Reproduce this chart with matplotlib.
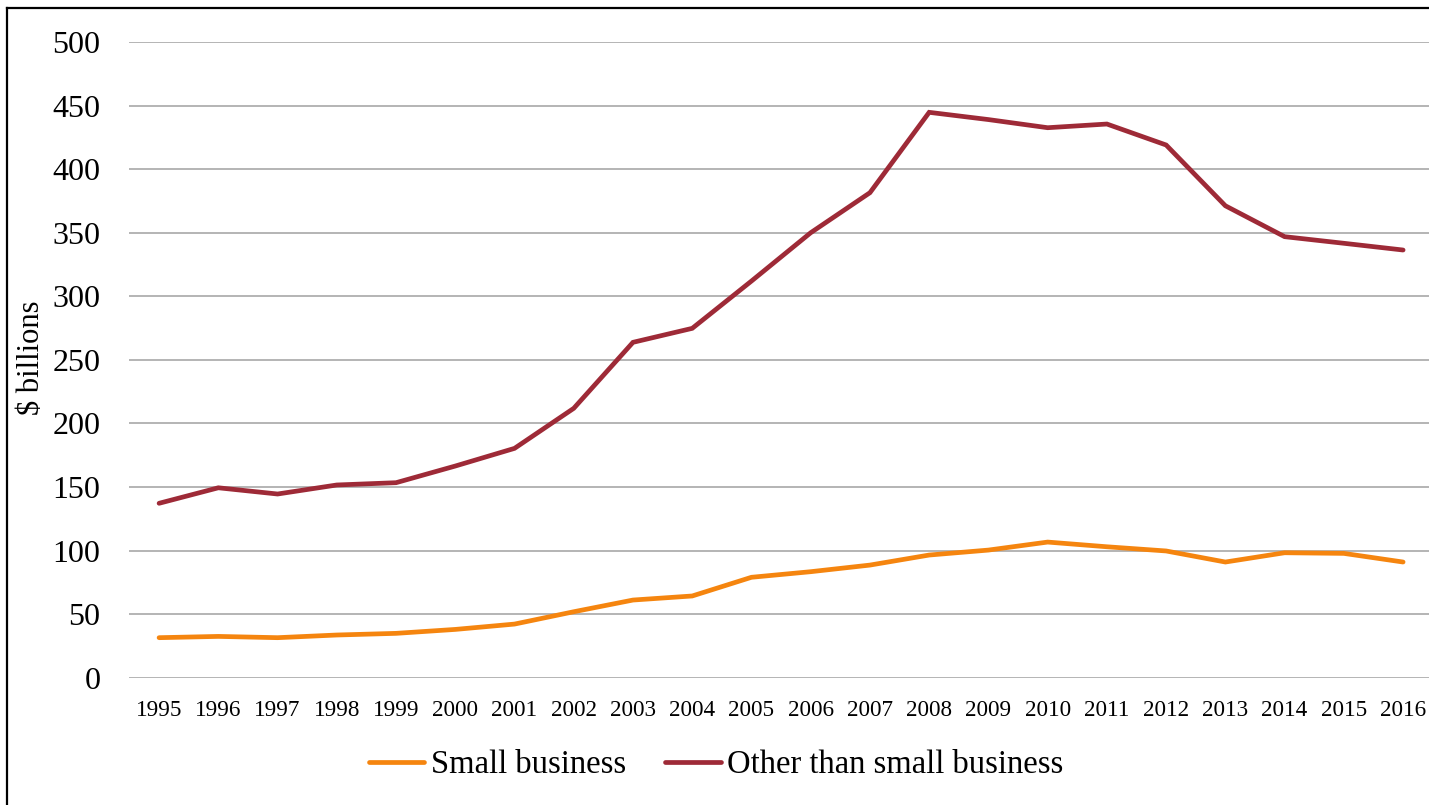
import matplotlib
matplotlib.use("Agg")
import matplotlib.pyplot as plt
from matplotlib.lines import Line2D

# data ($ billions)
years = [1995, 1996, 1997, 1998, 1999, 2000, 2001, 2002, 2003, 2004, 2005,
         2006, 2007, 2008, 2009, 2010, 2011, 2012, 2013, 2014, 2015, 2016]
small_business = [31.5, 32.5, 31.5, 33.6, 34.9, 38, 42.2, 51.9, 61.1, 64.3, 79,
                  83.4, 88.6, 96.5, 100.4, 106.7, 103, 99.7, 91, 98.3, 97.8, 91]
other_business = [137.2, 149.4, 144.5, 151.6, 153.4, 166.5, 180.4, 211.9, 263.8, 274.8, 312,
                  350, 381.5, 444.7, 439, 432.6, 435.5, 419, 371.2, 346.9, 341.7, 336.4]
y_ticks = [0, 50, 100, 150, 200, 250, 300, 350, 400, 450, 500]

plt.rcParams["font.family"] = ["Liberation Serif", "DejaVu Serif"]

fig = plt.figure(figsize=(14.29, 8.05), dpi=100)
ax = fig.add_axes([0.0906, 0.1581, 0.912, 0.7897])

xs = list(range(len(years)))
ax.plot(xs, small_business, color="#F5850F", lw=3.4, label="Small business",
        solid_capstyle="round", solid_joinstyle="miter")
ax.plot(xs, other_business, color="#9E2A37", lw=3.4, label="Other than small business",
        solid_capstyle="round", solid_joinstyle="miter")

ax.set_xlim(-0.5, len(years) - 0.5)
ax.set_ylim(0, 500)
ax.set_yticks(y_ticks)
ax.set_xticks(xs)
ax.set_xticklabels([str(y) for y in years], fontsize=16.7)
ax.tick_params(axis="y", labelsize=23, length=0, pad=21)
ax.tick_params(axis="x", length=0, pad=16)
ax.grid(axis="y", color="#A0A0A0", lw=1.1)
ax.set_axisbelow(True)
for s in ax.spines.values():
    s.set_visible(False)

ax.set_ylabel("$ billions", fontsize=22)
ax.yaxis.set_label_coords(-0.064, 0.504)

fig.legend(loc="center", bbox_to_anchor=(716 / 1429, 40 / 805), ncol=2,
           frameon=False, fontsize=23.5, handlelength=1.7, handletextpad=0.2,
           columnspacing=1.2)

# outer border (only the left and top edges show in the original)
fig.add_artist(Line2D([7 / 1429, 7 / 1429], [0, 1 - 8 / 805], color="black", lw=1.6,
                      transform=fig.transFigure))
fig.add_artist(Line2D([7 / 1429, 1], [1 - 8 / 805, 1 - 8 / 805], color="black", lw=1.6,
                      transform=fig.transFigure))

fig.savefig("out.png", dpi=100)
